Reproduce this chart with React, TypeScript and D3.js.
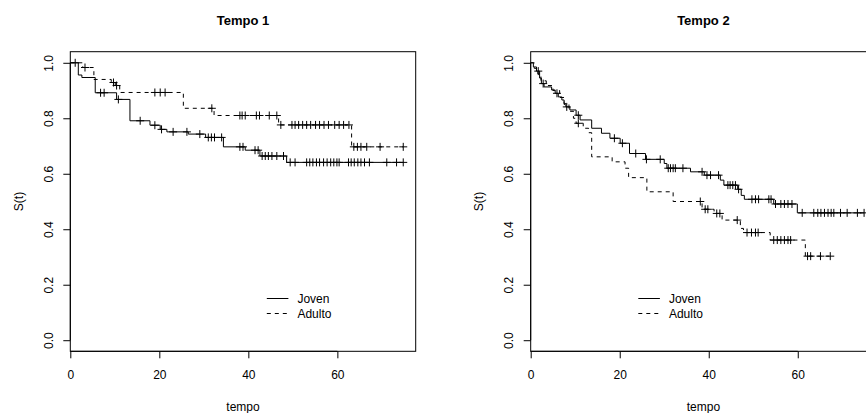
import React, { useEffect, useRef } from "react";
import * as d3 from "d3";

// Tempo 1 -- Joven (solid)
const t1JovenTimes = [1.8, 2.6, 5.6, 10.4, 13.4, 17.9, 20.2, 21.7, 26.5, 30.4, 34.4, 39.3, 42.6, 48.6];
const t1JovenSurv = [0.956, 0.947, 0.892, 0.868, 0.791, 0.775, 0.76, 0.751, 0.743, 0.731, 0.697, 0.685, 0.664, 0.641];
const t1JovenCensor = [1.1, 6.8, 7.6, 10.8, 15.7, 19.0, 20.5, 23.1, 26.2, 29.1, 31.0, 31.7, 32.4, 34.0, 38.1, 38.8, 41.5, 42.2,
  43.1, 43.8, 44.5, 45.3, 46.4, 47.9, 49.4, 50.5, 53.1, 53.8, 54.5, 55.3, 56.0, 56.9, 57.7, 58.5, 59.2, 59.9, 60.4, 62.5,
  63.1, 63.8, 64.6, 65.3, 66.1, 67.2, 71.1, 73.3, 74.8];

// Tempo 1 -- Adulto (dashed)
const t1AdultoTimes = [2.8, 5.3, 9.2, 10.1, 11.1, 25.4, 32.3, 46.8, 63.2];
const t1AdultoSurv = [0.983, 0.94, 0.929, 0.918, 0.893, 0.836, 0.81, 0.776, 0.697];
const t1AdultoCensor = [3.3, 9.7, 10.4, 19.0, 20.2, 21.3, 31.8, 38.1, 38.6, 39.3, 41.8, 42.5, 44.7, 46.4, 47.3, 49.8, 50.5,
  51.3, 52.2, 53.1, 54.0, 55.1, 56.0, 57.0, 58.0, 59.4, 60.4, 61.4, 62.6, 63.7, 64.5, 65.3, 66.6, 69.6, 74.8];

// Tempo 2 -- Joven (solid)
const t2JovenTimes = [0.6, 1.3, 2.0, 2.4, 3.0, 4.7, 5.5, 6.2, 7.0, 7.5, 7.9, 8.8, 10.2, 11.1, 13.7, 15.9, 17.8, 20.1, 22.2,
  25.8, 30.0, 30.6, 35.9, 39.0, 42.6, 43.4, 46.5, 47.3, 48.0, 54.6, 59.9];
const t2JovenSurv = [0.985, 0.97, 0.945, 0.925, 0.913, 0.902, 0.89, 0.877, 0.866, 0.853, 0.841, 0.83, 0.811, 0.794, 0.764,
  0.746, 0.728, 0.71, 0.673, 0.652, 0.637, 0.62, 0.607, 0.595, 0.577, 0.559, 0.544, 0.522, 0.508, 0.491, 0.459];
const t2JovenCensor = [1.7, 2.8, 5.9, 8.1, 10.7, 18.8, 20.6, 23.6, 26.0, 29.1, 30.9, 31.4, 32.0, 32.5, 34.2, 38.5, 39.6,
  40.4, 42.2, 44.3, 44.8, 45.4, 46.0, 46.7, 49.7, 50.5, 51.2, 53.5, 54.0, 55.0, 56.2, 57.0, 57.8, 58.7, 61.0, 63.6, 64.5,
  65.2, 66.0, 66.8, 67.5, 68.1, 69.6, 71.1, 73.4, 74.9];

// Tempo 2 -- Adulto (dashed)
const t2AdultoTimes = [0.8, 1.6, 2.3, 3.5, 5.0, 6.5, 7.5, 8.6, 9.6, 10.2, 11.8, 13.0, 13.7, 18.3, 21.2, 22.0, 26.1, 32.0,
  38.5, 41.2, 43.0, 47.1, 47.8, 53.8, 61.7];
const t2AdultoSurv = [0.98, 0.96, 0.935, 0.918, 0.9, 0.875, 0.85, 0.825, 0.8, 0.782, 0.764, 0.748, 0.661, 0.643, 0.62,
  0.586, 0.535, 0.5, 0.472, 0.457, 0.433, 0.403, 0.388, 0.361, 0.303];
const t2AdultoCensor = [10.7, 38.1, 39.2, 39.8, 41.8, 42.5, 46.4, 48.6, 49.6, 50.5, 51.1, 54.6, 55.4, 56.2, 57.0, 57.8,
  58.4, 62.2, 62.9, 65.1, 67.3];

const titles = ["Tempo 1", "Tempo 2"];
const groupLabels = ["Joven", "Adulto"];
const xTicks = [0, 20, 40, 60];
const yTicks = [0, 0.2, 0.4, 0.6, 0.8, 1.0];

const FONT = "'Liberation Sans', Arial, Helvetica, sans-serif";
const margin = { top: 51.7, bottom: 351.3 };
const panelWidth = 345.4;

const panels = [
  {
    title: titles[0], left: 70.3, legendX: 196.5,
    groups: [
      { times: t1JovenTimes, surv: t1JovenSurv, censor: t1JovenCensor, dash: null },
      { times: t1AdultoTimes, surv: t1AdultoSurv, censor: t1AdultoCensor, dash: "4,4" },
    ],
  },
  {
    title: titles[1], left: 530.7, legendX: 107.6,
    groups: [
      { times: t2JovenTimes, surv: t2JovenSurv, censor: t2JovenCensor, dash: null },
      { times: t2AdultoTimes, surv: t2AdultoSurv, censor: t2AdultoCensor, dash: "4,4" },
    ],
  },
];

function survAt(times, surv, t) {
  const i = d3.bisectRight(times, t);
  return i === 0 ? 1 : surv[i - 1];
}

function drawPanel(svg, p) {
  const x = d3.scaleLinear().domain([0, 77.6]).range([p.left, p.left + panelWidth]);
  const y = d3.scaleLinear().domain([-0.04, 1.04]).range([margin.bottom, margin.top]);
  const cx = p.left + panelWidth / 2;

  const g = svg.append("g");

  g.append("rect")
    .attr("x", p.left).attr("y", margin.top)
    .attr("width", panelWidth).attr("height", margin.bottom - margin.top)
    .attr("fill", "none").attr("stroke", "#000").attr("stroke-width", 1);

  // x axis
  const xa = g.append("g")
    .attr("transform", "translate(0," + margin.bottom + ")")
    .call(d3.axisBottom(x).tickValues(xTicks).tickSize(7));
  xa.select(".domain").attr("d", "M" + x(0) + ",0H" + x(60)).attr("stroke", "#000");
  xa.selectAll("line").attr("stroke", "#000");
  xa.selectAll("text")
    .attr("y", 23.7).attr("dy", "0.35em")
    .attr("font-size", 12).attr("font-family", FONT).attr("fill", "#000");

  // y axis
  const ya = g.append("g")
    .attr("transform", "translate(" + p.left + ",0)")
    .call(d3.axisLeft(y).tickValues(yTicks).tickFormat(d3.format(".1f")).tickSize(7));
  ya.select(".domain").attr("d", "M0," + y(0) + "V" + y(1)).attr("stroke", "#000");
  ya.selectAll("line").attr("stroke", "#000");
  ya.selectAll("text")
    .attr("x", 0).attr("y", 0).attr("dy", "0.35em")
    .attr("transform", "translate(-21.7,0) rotate(-90)")
    .attr("text-anchor", "middle")
    .attr("font-size", 12).attr("font-family", FONT).attr("fill", "#000");

  // labels
  g.append("text")
    .attr("x", cx).attr("y", 20).attr("dy", "0.35em")
    .attr("text-anchor", "middle").attr("font-weight", "bold")
    .attr("font-size", 13).attr("font-family", FONT)
    .text(p.title);

  g.append("text")
    .attr("x", cx).attr("y", 406.7).attr("dy", "0.35em")
    .attr("text-anchor", "middle")
    .attr("font-size", 12).attr("font-family", FONT)
    .text("tempo");

  g.append("text")
    .attr("transform", "translate(" + (p.left - 51.7) + "," + ((margin.top + margin.bottom) / 2) + ") rotate(-90)")
    .attr("dy", "0.35em")
    .attr("text-anchor", "middle")
    .attr("font-size", 12).attr("font-family", FONT)
    .text("S(t)");

  // survival curves
  const line = d3.line().x(d => x(d[0])).y(d => y(d[1])).curve(d3.curveStepAfter);

  p.groups.forEach(grp => {
    const lastT = Math.max(grp.times[grp.times.length - 1], grp.censor[grp.censor.length - 1]);
    const pts = [[0, 1]].concat(grp.times.map((t, i) => [t, grp.surv[i]]));
    pts.push([lastT, grp.surv[grp.surv.length - 1]]);

    g.append("path")
      .attr("d", line(pts))
      .attr("fill", "none").attr("stroke", "#000").attr("stroke-width", 1)
      .attr("stroke-dasharray", grp.dash);

    g.append("g").selectAll("path")
      .data(grp.censor)
      .enter()
      .append("path")
      .attr("d", c => {
        const px = x(c), py = y(survAt(grp.times, grp.surv, c));
        return "M" + (px - 4) + "," + py + "h8M" + px + "," + (py - 4) + "v8";
      })
      .attr("stroke", "#000").attr("stroke-width", 1);
  });

  // legend
  groupLabels.forEach((lab, i) => {
    const ly = 298.5 + i * 15;
    const lx = p.left + p.legendX;
    g.append("line")
      .attr("x1", lx).attr("x2", lx + 21.6)
      .attr("y1", ly).attr("y2", ly)
      .attr("stroke", "#000").attr("stroke-width", 1)
      .attr("stroke-dasharray", p.groups[i].dash);
    g.append("text")
      .attr("x", lx + 30.6).attr("y", ly).attr("dy", "0.35em")
      .attr("font-size", 12).attr("font-family", FONT)
      .text(lab);
  });
}

export default function App() {
  const ref = useRef(null);

  useEffect(() => {
    const svg = d3.select(ref.current);
    svg.selectAll("*").remove();
    panels.forEach(p => drawPanel(svg, p));
  }, []);

  return (
    <svg
      ref={ref}
      width={866}
      height={413}
      style={{ position: "absolute", left: 0, top: 0, background: "#fff" }}
    />
  );
}
